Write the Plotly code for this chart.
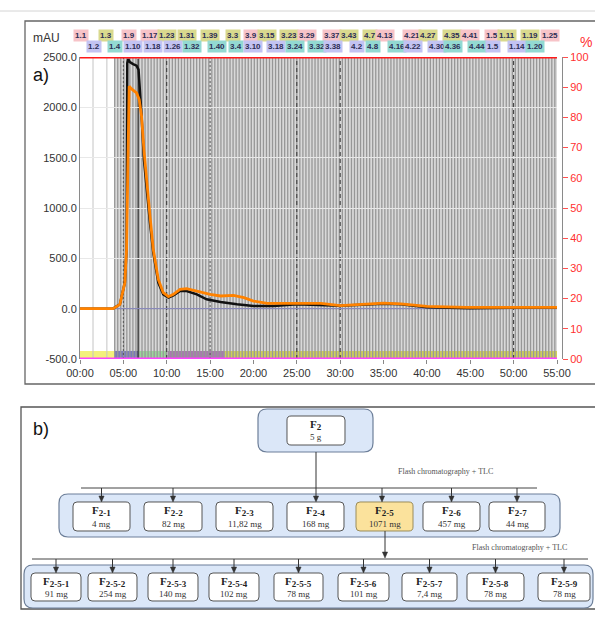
import plotly.graph_objects as go

# ------------------------------------------------------------------ data
time_black = [0, 3.8, 4.6, 5.17, 5.37, 5.45, 5.56, 5.75, 6.13, 6.52, 6.75, 6.9, 7.1, 7.37,
              7.68, 8.07, 8.45, 9.03, 9.6, 10.2, 10.77, 11.54, 12.3, 13.47, 14.6, 16.2,
              18.1, 20.0, 22.3, 25, 30, 35, 37, 39, 40, 45, 50, 55]
abs_black = [0, 0, 43, 258, 600, 2440, 2480, 2450, 2430, 2414, 2374, 2209, 1911, 1482,
             1184, 853, 556, 258, 142, 109, 132, 175, 175, 142, 93, 66,
             43, 26, 26, 43, 30, 50, 45, 25, 15, 5, 10, 12]

time_orange = [0, 3.82, 4.6, 5.17, 5.37, 5.56, 5.67, 5.94, 6.52, 6.83, 7.1, 7.37, 7.68,
               8.07, 8.45, 9.03, 9.6, 10.2, 10.77, 11.54, 12.3, 13.47, 15.0, 16.2, 17.7,
               18.9, 20.0, 21.6, 23.9, 27.8, 30, 35, 37, 40, 44.6, 50, 55]
abs_orange = [0, 0, 43, 258, 589, 1581, 2209, 2183, 2143, 2077, 1911, 1581, 1250,
              919, 589, 291, 159, 119, 142, 192, 198, 175, 142, 126, 132,
              109, 76, 53, 53, 53, 30, 55, 48, 22, 13, 15, 13]

gradient_time = [0, 55]
gradient_top_pct = [100, 100]
gradient_bottom_pct = [0, 0]
baseline_mau = [0, 0]

fraction_times = [
    4.00, 4.35, 4.70, 5.05, 5.40, 5.75, 6.10, 6.45, 6.80, 7.15, 7.50, 7.85, 8.20, 8.55,
    8.90, 9.25, 9.60, 9.95, 10.30, 10.65, 11.00, 11.35, 11.70, 12.05, 12.40, 12.75, 13.10,
    13.45, 13.80, 14.15, 14.50, 14.85, 15.20, 15.55, 15.90, 16.25, 16.60, 16.95, 17.30,
    17.65, 18.00, 18.35, 18.70, 19.05, 19.40, 19.75, 20.10, 20.45, 20.80, 21.15, 21.50,
    21.85, 22.20, 22.55, 22.90, 23.25, 23.60, 23.95, 24.30, 24.65, 25.00, 25.35, 25.70,
    26.05, 26.40, 26.75, 27.10, 27.45, 27.80, 28.15, 28.50, 28.85, 29.20, 29.55, 29.90,
    30.25, 30.60, 30.95, 31.30, 31.65, 32.00, 32.35, 32.70, 33.05, 33.40, 33.75, 34.10,
    34.45, 34.80, 35.15, 35.50, 35.85, 36.20, 36.55, 36.90, 37.25, 37.60, 37.95, 38.30,
    38.65, 39.00, 39.35, 39.70, 40.05, 40.40, 40.75, 41.10, 41.45, 41.80, 42.15, 42.50,
    42.85, 43.20, 43.55, 43.90, 44.25, 44.60, 44.95, 45.30, 45.65, 46.00, 46.35, 46.70,
    47.05, 47.40, 47.75, 48.10, 48.45, 48.80, 49.15, 49.50, 49.85, 50.20, 50.55, 50.90,
    51.25, 51.60, 51.95, 52.30, 52.65, 53.00, 53.35, 53.70, 54.05, 54.40, 54.75]
fraction_region = [4.0, 55.0]
pre_fraction_lines = [1.5, 3.1]
dark_fraction_lines = [6.7]
dotted_markers = [5, 15]
dashed_markers = [10, 25, 30, 50]

rack_starts = [0, 4.0, 6.7, 10.1, 16.7]
rack_ends = [4.0, 6.7, 10.1, 16.7, 55.0]

x_tick_vals = [0, 5, 10, 15, 20, 25, 30, 35, 40, 45, 50, 55]
x_tick_text = ["00:00", "05:00", "10:00", "15:00", "20:00", "25:00", "30:00", "35:00",
               "40:00", "45:00", "50:00", "55:00"]
y_tick_vals = [-500, 0, 500, 1000, 1500, 2000, 2500]
y_tick_text = ["-500.0", "0.0", "500.0", "1000.0", "1500.0", "2000.0", "2500.0"]
pct_tick_vals = [0, 10, 20, 30, 40, 50, 60, 70, 80, 90, 100]
pct_tick_text = ["00", "10", "20", "30", "40", "50", "60", "70", "80", "90", "100"]

row1_labels = ["1.1", "1.3", "1.9", "1.17", "1.23", "1.31", "1.39", "3.3", "3.9", "3.15",
               "3.23", "3.29", "3.37", "3.43", "4.7", "4.13", "4.21", "4.27", "4.35", "4.41",
               "1.5", "1.11", "1.19", "1.25"]
row1_times = [0.12, 3.0, 5.65, 8.07, 10.03, 12.34, 14.99, 17.64, 19.72, 21.56,
              24.1, 26.17, 29.06, 31.02, 33.44, 35.17, 38.28, 40.12, 42.89, 44.97,
              47.5, 49.23, 51.9, 54.19]
row1_kind = ["p", "o", "p", "p", "o", "o", "o", "o", "p", "o",
             "o", "p", "p", "o", "o", "p", "p", "o", "o", "p",
             "p", "o", "o", "p"]
row2_labels = ["1.2", "1.4", "1.10", "1.18", "1.26", "1.32", "1.40", "3.4", "3.10", "3.18",
               "3.24", "3.32", "3.38", "4.2", "4.8", "4.16", "4.22", "4.30", "4.36", "4.44",
               "1.5", "1.14", "1.20"]
row2_times = [1.61, 4.04, 6.11, 8.42, 10.72, 12.91, 15.8, 17.99, 19.95, 22.6,
              24.79, 27.33, 29.17, 31.94, 33.78, 36.55, 38.39, 41.16, 43.01, 45.77,
              47.62, 50.39, 52.5]
row2_kind = ["b", "t", "b", "b", "b", "t", "t", "t", "b", "b",
             "t", "t", "b", "b", "t", "t", "b", "b", "t", "t",
             "b", "b", "t"]

root_name = "2"
root_mass = "5 g"
level1_names = ["2-1", "2-2", "2-3", "2-4", "2-5", "2-6", "2-7"]
level1_mass = ["4 mg", "82 mg", "11,82 mg", "168 mg", "1071 mg", "457 mg", "44 mg"]
level1_selected = "2-5"
level1_arrowed = ["2-1", "2-2", "2-5", "2-6", "2-7"]
level2_names = ["2-5-1", "2-5-2", "2-5-3", "2-5-4", "2-5-5", "2-5-6", "2-5-7", "2-5-8", "2-5-9"]
level2_mass = ["91 mg", "254 mg", "140 mg", "102 mg", "78 mg", "101 mg", "7,4 mg", "78 mg", "78 mg"]
step_text = "Flash chromatography + TLC"

# ------------------------------------------------------------------ styles / layout
W, H = 595, 621
def PX(x):
    return x / W
def PY(y):
    return 1 - y / H

label_bg = {"p": "#f7c3c8", "o": "#d9d98e", "b": "#c3c3f2", "t": "#93d9d2"}
rack_colors = ["#f3f07c", "#7b7bb8", "#9bd59b", "#a87aae", "#cfcf5a"]

fig = go.Figure()

fig.add_trace(go.Scatter(x=gradient_time, y=baseline_mau, mode="lines",
                         line=dict(color="#5a5aa0", width=0.8), hoverinfo="skip"))
fig.add_trace(go.Scatter(x=time_black, y=abs_black, mode="lines",
                         line=dict(color="#111111", width=2.5), hoverinfo="skip"))
fig.add_trace(go.Scatter(x=time_orange, y=abs_orange, mode="lines",
                         line=dict(color="#ff8200", width=2.8), hoverinfo="skip"))
fig.add_trace(go.Scatter(x=gradient_time, y=gradient_top_pct, yaxis="y2", mode="lines",
                         line=dict(color="#ff1a1a", width=3), cliponaxis=False,
                         hoverinfo="skip"))
fig.add_trace(go.Scatter(x=gradient_time, y=gradient_bottom_pct, yaxis="y2", mode="lines",
                         line=dict(color="#ff44ff", width=3), cliponaxis=False,
                         hoverinfo="skip"))
fig.add_trace(go.Scatter(x=[0, 55.58], y=[2545, 2545], mode="markers", cliponaxis=False,
                         marker=dict(symbol="triangle-up-open", size=8, color="#888888"),
                         hoverinfo="skip"))

shapes = []
shapes.append(dict(type="rect", xref="x", yref="y", x0=fraction_region[0], x1=fraction_region[1],
                   y0=-420, y1=2500, fillcolor="#d9d9d9", line=dict(width=0), layer="below"))
for s, e, c in zip(rack_starts, rack_ends, rack_colors):
    shapes.append(dict(type="rect", xref="x", yref="y", x0=s, x1=e, y0=-500, y1=-420,
                       fillcolor=c, line=dict(width=0), layer="below"))
for t in pre_fraction_lines:
    shapes.append(dict(type="line", xref="x", yref="y", x0=t, x1=t, y0=-500, y1=2500,
                       line=dict(color="#c4c4c4", width=1), layer="below"))
for t in fraction_times:
    shapes.append(dict(type="line", xref="x", yref="y", x0=t, x1=t, y0=-500, y1=2500,
                       line=dict(color="#979797", width=1.3), layer="below"))
for t in dark_fraction_lines:
    shapes.append(dict(type="line", xref="x", yref="y", x0=t, x1=t, y0=-500, y1=2480,
                       line=dict(color="#2a2a2a", width=1.2), layer="below"))
for t in dotted_markers:
    shapes.append(dict(type="line", xref="x", yref="y", x0=t, x1=t, y0=-500, y1=2500,
                       line=dict(color="#555555", width=1, dash="2px,2px"), layer="below"))
for t in dashed_markers:
    shapes.append(dict(type="line", xref="x", yref="y", x0=t, x1=t, y0=-500, y1=2500,
                       line=dict(color="#333333", width=1, dash="4px,3px"), layer="below"))

shapes.append(dict(type="line", xref="paper", yref="paper", x0=0, x1=1, y0=PY(11), y1=PY(11),
                   line=dict(color="#d4d4d4", width=1)))
shapes.append(dict(type="rect", xref="paper", yref="paper", x0=PX(25), x1=PX(603),
                   y0=PY(384), y1=PY(21), line=dict(color="#666666", width=1.3)))
shapes.append(dict(type="rect", xref="paper", yref="paper", x0=PX(21), x1=PX(603),
                   y0=PY(609), y1=PY(407), line=dict(color="#555555", width=1.3)))


def rrect(x0, y0, x1, y1, r, fill, lc, lw=1):
    pts = [("M", [(x0 + r, y0)]), ("L", [(x1 - r, y0)]), ("Q", [(x1, y0), (x1, y0 + r)]),
           ("L", [(x1, y1 - r)]), ("Q", [(x1, y1), (x1 - r, y1)]), ("L", [(x0 + r, y1)]),
           ("Q", [(x0, y1), (x0, y1 - r)]), ("L", [(x0, y0 + r)]), ("Q", [(x0, y0), (x0 + r, y0)])]
    path = ""
    for cmd, ps in pts:
        path += cmd + " " + " ".join(f"{PX(a):.5f},{PY(b):.5f}" for a, b in ps) + " "
    path += "Z"
    return dict(type="path", xref="paper", yref="paper", path=path, fillcolor=fill,
                line=dict(color=lc, width=lw))


outer_fill, outer_line = "#dbe7f8", "#6d7f99"
inner_line = "#555555"

annotations = []
serif = "Liberation Serif"


def box_text(cx, y_name, y_mass, name, mass):
    annotations.append(dict(xref="paper", yref="paper", x=PX(cx), y=PY(y_name),
                            text=f"<b>F<sub><span style='font-size:9px'>{name}</span></sub></b>",
                            showarrow=False,
                            font=dict(family=serif, size=11, color="#222222"),
                            xanchor="center", yanchor="middle"))
    annotations.append(dict(xref="paper", yref="paper", x=PX(cx), y=PY(y_mass),
                            text=mass, showarrow=False,
                            font=dict(family=serif, size=9, color="#333333"),
                            xanchor="center", yanchor="middle"))


def arrow(x, y_tail, y_head):
    shapes.append(dict(type="line", xref="paper", yref="paper", x0=PX(x), x1=PX(x),
                       y0=PY(y_tail), y1=PY(y_head - 3), line=dict(color="#333333", width=1)))
    path = (f"M {PX(x):.5f},{PY(y_head):.5f} L {PX(x - 2.6):.5f},{PY(y_head - 6):.5f} "
            f"L {PX(x + 2.6):.5f},{PY(y_head - 6):.5f} Z")
    shapes.append(dict(type="path", xref="paper", yref="paper", path=path,
                       fillcolor="#333333", line=dict(color="#333333", width=0.5)))


# root
shapes.append(rrect(258, 409, 373, 452, 9, outer_fill, outer_line, 1.2))
shapes.append(rrect(287, 416, 345, 445, 4, "white", inner_line))
box_text(316, 425, 437, root_name, root_mass)

# level 1
lvl1_x = [(73, 130), (144, 202), (216, 273), (287, 344), (356, 413), (423, 480), (489, 545)]
shapes.append(dict(type="line", xref="paper", yref="paper", x0=PX(81), x1=PX(537),
                   y0=PY(488), y1=PY(488), line=dict(color="#444444", width=1)))
shapes.append(rrect(59, 494, 560, 537, 9, outer_fill, outer_line, 1.2))
arrow(316, 452, 502)
for (x0, x1), n, m in zip(lvl1_x, level1_names, level1_mass):
    fill = "#fbe29c" if n == level1_selected else "white"
    lc = "#9a8c5a" if n == level1_selected else inner_line
    shapes.append(rrect(x0, 502, x1, 531, 4, fill, lc))
    cx = (x0 + x1) / 2
    box_text(cx, 511, 524, n, m)
    if n in level1_arrowed and n != level1_selected:
        arrow(cx, 488, 502)
    if n == level1_selected:
        arrow(382, 488, 502)
annotations.append(dict(xref="paper", yref="paper", x=PX(445), y=PY(471), text=step_text,
                        showarrow=False, font=dict(family=serif, size=8, color="#555555"),
                        xanchor="center", yanchor="middle"))

# level 2
lvl2_x = [(31, 81), (88, 137), (148, 198), (209, 259), (274, 323), (338, 389), (402, 457),
          (467, 524), (538, 590)]
shapes.append(dict(type="line", xref="paper", yref="paper", x0=PX(32), x1=PX(588),
                   y0=PY(559), y1=PY(559), line=dict(color="#444444", width=1)))
shapes.append(rrect(24, 565, 593, 608, 9, outer_fill, outer_line, 1.2))
arrow(385, 531, 558)
for (x0, x1), n, m in zip(lvl2_x, level2_names, level2_mass):
    shapes.append(rrect(x0, 573, x1, 601, 4, "white", inner_line))
    cx = (x0 + x1) / 2
    box_text(cx, 582, 594, n, m)
    arrow(cx, 559, 573)
annotations.append(dict(xref="paper", yref="paper", x=PX(519), y=PY(547), text=step_text,
                        showarrow=False, font=dict(family=serif, size=8, color="#555555"),
                        xanchor="center", yanchor="middle"))

# fraction tube labels
for labs, times, kinds, ypx in [(row1_labels, row1_times, row1_kind, 35),
                                (row2_labels, row2_times, row2_kind, 46)]:
    for lab, t, k in zip(labs, times, kinds):
        annotations.append(dict(xref="x", yref="paper", x=t, y=PY(ypx), text=f"<b>{lab}</b>",
                                showarrow=False, bgcolor=label_bg[k], borderpad=1,
                                font=dict(family="Liberation Sans", size=8, color="#2e2e55"),
                                xanchor="center", yanchor="middle"))

annotations.append(dict(xref="paper", yref="paper", x=PX(46), y=PY(38), text="mAU",
                        showarrow=False, font=dict(family="Liberation Sans", size=12, color="#333"),
                        xanchor="center", yanchor="middle"))
annotations.append(dict(xref="paper", yref="paper", x=PX(586), y=PY(42), text="%",
                        showarrow=False, font=dict(family="Liberation Sans", size=14, color="#ff3030"),
                        xanchor="center", yanchor="middle"))
annotations.append(dict(xref="paper", yref="paper", x=PX(31), y=PY(75), text="a)",
                        showarrow=False, font=dict(family="Liberation Sans", size=18, color="#111"),
                        xanchor="left", yanchor="middle"))
annotations.append(dict(xref="paper", yref="paper", x=PX(31), y=PY(429), text="b)",
                        showarrow=False, font=dict(family="Liberation Sans", size=18, color="#111"),
                        xanchor="left", yanchor="middle"))

fig.update_layout(
    width=W, height=H, margin=dict(l=0, r=0, t=0, b=0, autoexpand=False),
    paper_bgcolor="white", plot_bgcolor="white", showlegend=False, hovermode=False,
    xaxis=dict(domain=[PX(80), PX(557)], range=[0, 55], tickvals=x_tick_vals,
               ticktext=x_tick_text, ticks="outside", ticklen=4, tickcolor="#888888",
               tickfont=dict(family="Liberation Sans", size=11, color="#333333"),
               showgrid=False, zeroline=False, showline=False, anchor="y", automargin=False),
    yaxis=dict(domain=[PY(359), PY(57)], range=[-500, 2500], tickvals=y_tick_vals,
               ticktext=y_tick_text, tickfont=dict(family="Liberation Sans", size=11, color="#333333"),
               showgrid=True, gridcolor="#e8e8e8", gridwidth=1, zeroline=False,
               showline=True, linecolor="#8a8a8a", linewidth=1, ticks="", anchor="x",
               automargin=False),
    yaxis2=dict(overlaying="y", side="right", anchor="free", position=PX(562),
                range=[0, 100], tickvals=pct_tick_vals, ticktext=pct_tick_text,
                tickfont=dict(family="Liberation Sans", size=11, color="#ff3030"),
                ticks="outside", ticklen=5, tickcolor="#ff5050", showgrid=False,
                zeroline=False, showline=True, linecolor="#8a8a8a", linewidth=1,
                automargin=False),
    shapes=shapes, annotations=annotations,
)

fig.write_html("out.html", config={"displayModeBar": False},
               post_script="document.body.style.margin='0';document.body.style.overflow='hidden';")
